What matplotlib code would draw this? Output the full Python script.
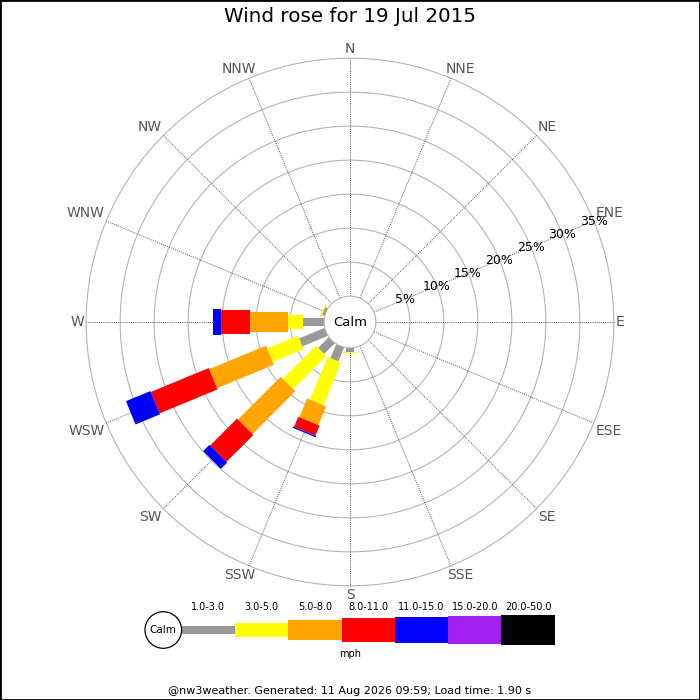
import numpy as np
import matplotlib
matplotlib.use("Agg")
import matplotlib.pyplot as plt
from matplotlib.patches import Circle, Polygon, Rectangle

# Datos de la rosa de viento (porcentaje por dirección y clase de velocidad)
DIRECTIONS = ['N', 'NNE', 'NE', 'ENE', 'E', 'ESE', 'SE', 'SSE',
              'S', 'SSW', 'SW', 'WSW', 'W', 'WNW', 'NW', 'NNW']
SPEED_LABELS = ['1.0-3.0', '3.0-5.0', '5.0-8.0', '8.0-11.0',
                '11.0-15.0', '15.0-20.0', '20.0-50.0']
SPEED_COLORS = ['#999999', '#ffff00', '#ffa500', '#ff0000',
                '#0000ff', '#a020f0', '#000000']

#             N  NNE NE ENE E ESE SE SSE  S     SSW  SW   WSW   W     WNW  NW NNW
pct_1_3   = [0, 0, 0, 0, 0, 0, 0, 0, 0.60, 2.2, 2.2, 4.05, 3.15, 0.40, 0, 0]
pct_3_5   = [0, 0, 0, 0, 0, 0, 0, 0, 0.15, 6.8, 6.9, 4.90, 2.15, 0.20, 0, 0]
pct_5_8   = [0, 0, 0, 0, 0, 0, 0, 0, 0.00, 3.0, 8.9, 9.05, 5.60, 0.00, 0, 0]
pct_8_11  = [0, 0, 0, 0, 0, 0, 0, 0, 0.00, 1.6, 5.6, 9.20, 4.20, 0.00, 0, 0]
pct_11_15 = [0, 0, 0, 0, 0, 0, 0, 0, 0.00, 0.2, 1.3, 3.90, 1.30, 0.00, 0, 0]
pct_15_20 = [0] * 16
pct_20_50 = [0] * 16

RING_PCTS = [5, 10, 15, 20, 25, 30, 35]

TITLE = "Wind rose for 19 Jul 2015"
FOOTER = "@nw3weather. Generated: 11 Aug 2026 09:59; Load time: 1.90 s"

# Geometría (unidades = 1 %)
SCALE = 6.8           # px por unidad
CALM_R = 3.8          # radio del círculo "Calm"
BAR_W = [1.26, 2.14, 3.03, 3.40, 3.70, 3.99, 4.29]


def px_axes(fig, left, top, width, height):
    ax = fig.add_axes([left / 700, 1 - (top + height) / 700, width / 700, height / 700])
    ax.set_xlim(0, width / SCALE)
    ax.set_ylim(0, height / SCALE)
    ax.set_aspect('equal')
    ax.axis('off')
    return ax


def bar_poly(theta, r0, r1, w, **kw):
    u = np.array([np.sin(theta), np.cos(theta)])
    v = np.array([np.cos(theta), -np.sin(theta)])
    pts = [r0 * u + v * w / 2, r1 * u + v * w / 2, r1 * u - v * w / 2, r0 * u - v * w / 2]
    return Polygon(pts, closed=True, **kw)


fig = plt.figure(figsize=(7, 7), dpi=100)

# Eje principal centrado en (350, 322) px
half = 304
ax = fig.add_axes([(350 - half) / 700, (378 - half) / 700, 2 * half / 700, 2 * half / 700])
L = half / SCALE
ax.set_xlim(-L, L)
ax.set_ylim(-L, L)
ax.set_aspect('equal')
ax.axis('off')

outer = CALM_R + RING_PCTS[-1]
for p in RING_PCTS:
    ax.add_patch(Circle((0, 0), CALM_R + p, fill=False, edgecolor='#b4b4b4', lw=0.8, zorder=1))

angles = np.deg2rad(np.arange(16) * 22.5)
for name, th in zip(DIRECTIONS, angles):
    s, c = np.sin(th), np.cos(th)
    ax.plot([CALM_R * s, outer * s], [CALM_R * c, outer * c],
            linestyle=(0, (1, 1.2)), color='#555555', lw=0.7, zorder=1)
    lr = outer + 0.3
    x, y = lr * s, lr * c
    if abs(s) < 0.1:
        ha = 'center'
    elif abs(s) < 0.5:
        ha = 'center'
        x += np.sign(s) * 9 / SCALE
    else:
        ha = 'left' if s > 0 else 'right'
    va = 'center' if abs(c) < 0.1 else ('bottom' if c > 0 else 'top')
    ax.text(x, y, name, ha=ha, va=va, fontsize=10, color='#555555')

series = [pct_1_3, pct_3_5, pct_5_8, pct_8_11, pct_11_15, pct_15_20, pct_20_50]
data = np.array(series)
for i, th in enumerate(angles):
    r = CALM_R
    for k in range(len(series)):
        val = data[k, i]
        if val <= 0:
            continue
        ax.add_patch(bar_poly(th, r, r + val, BAR_W[k], facecolor=SPEED_COLORS[k],
                              edgecolor='none', zorder=3))
        r += val

ax.add_patch(Circle((0, 0), CALM_R, facecolor='white', edgecolor='#b4b4b4', lw=0.8, zorder=4))
ax.text(0, 0, "Calm", ha='center', va='center', fontsize=9.5, zorder=5)

lab_th = np.deg2rad(67.5)
for p in RING_PCTS:
    rr = CALM_R + p
    ax.text(rr * np.sin(lab_th), rr * np.cos(lab_th), f"{p}%", ha='center', va='center',
            fontsize=9, zorder=6)

fig.text(0.5, 1 - 17 / 700, TITLE, ha='center', va='center', fontsize=14.3)

# Leyenda
lax = px_axes(fig, 140, 595, 420, 70)
cy = 35 / SCALE
cx = 23.3 / SCALE
lr = 18.3 / SCALE
lax.add_patch(Circle((cx, cy), lr, facecolor='white', edgecolor='black', lw=0.9, zorder=3))
lax.text(cx, cy, "Calm", ha='center', va='center', fontsize=7.5, zorder=4)
seg = 53.3 / SCALE
x0 = cx + lr
for k, (lab, col) in enumerate(zip(SPEED_LABELS, SPEED_COLORS)):
    xs = x0 + k * seg
    lax.add_patch(Rectangle((xs, cy - BAR_W[k] / 2), seg, BAR_W[k], facecolor=col,
                            edgecolor='none', zorder=2))
    lax.text(xs + seg / 2, cy + 23 / SCALE, lab, ha='center', va='center', fontsize=7)
lax.text(210 / SCALE, cy - 24 / SCALE, "mph", ha='center', va='center', fontsize=7)

fig.text(0.5, 1 - 691 / 700, FOOTER, ha='center', va='center', fontsize=8)

fig.patches.append(Rectangle((0, 0), 1, 1, transform=fig.transFigure, fill=False,
                             edgecolor='black', lw=2))

plt.savefig("out.png", dpi=100)
